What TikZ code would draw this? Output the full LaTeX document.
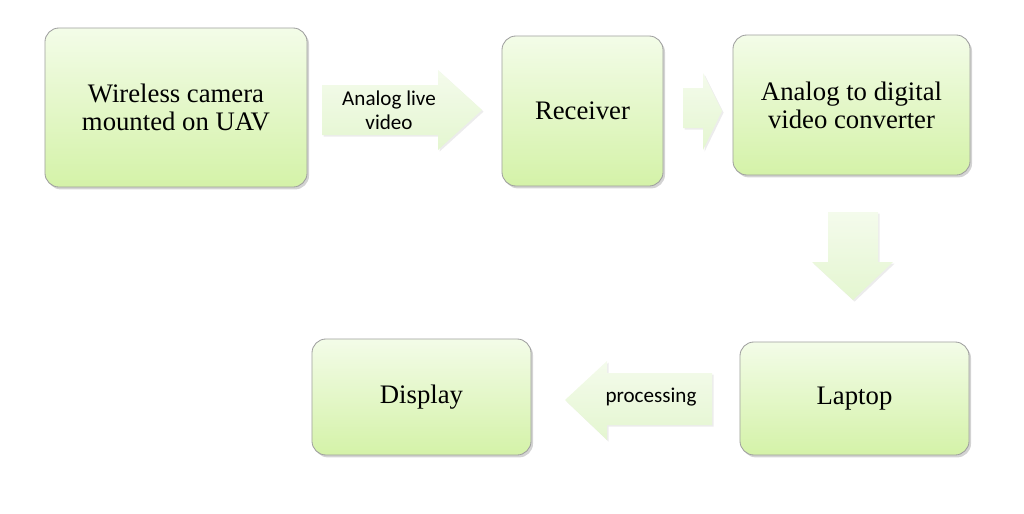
\documentclass[tikz,border=0pt]{standalone}
\usepackage{fontspec}
\setmainfont{Liberation Serif}
\newfontfamily\labelfont{Carlito}
\usetikzlibrary{positioning,shadows}

\definecolor{boxtop}{RGB}{243,252,232}
\definecolor{boxbottom}{RGB}{212,242,168}
\definecolor{arrowtop}{RGB}{244,251,236}
\definecolor{arrowbottom}{RGB}{228,246,208}

\tikzset{
  stagebox/.style={rectangle, rounded corners=0.35cm, draw=gray!75, line width=0.6pt,
    top color=boxtop, bottom color=boxbottom, align=center,
    font=\fontsize{19}{20}\selectfont,
    drop shadow={shadow xshift=0.05cm, shadow yshift=-0.06cm, opacity=0.35}},
  flowarrow/.style={top color=arrowtop, bottom color=arrowbottom,
    drop shadow={shadow xshift=0.04cm, shadow yshift=-0.04cm, opacity=0.15}},
  arrowtext/.style={align=center, font=\labelfont\fontsize{15}{17}\selectfont}
}

\begin{document}
\begin{tikzpicture}[x=0.025cm, y=-0.025cm]
\useasboundingbox (0,0) rectangle (1024,513);

%Draw the stages
\node[stagebox, minimum width=6.55cm, minimum height=3.975cm] (camera) at (176,107.5)
  {Wireless camera\\mounted on UAV};
\node[stagebox, minimum width=4.025cm, minimum height=3.75cm] (receiver) at (582.5,111)
  {Receiver};
\node[stagebox, minimum width=5.925cm, minimum height=3.5cm] (converter) at (851.5,105)
  {Analog to digital\\video converter};
\node[stagebox, minimum width=5.725cm, minimum height=2.825cm] (laptop) at (854.5,398.5)
  {Laptop};
\node[stagebox, minimum width=5.475cm, minimum height=2.9cm] (display) at (421.5,397)
  {Display};

%Add block arrows between the stages
\shade[flowarrow] (322,85) -- (438,85) -- (438,70) -- (482,110)
      -- (438,150) -- (438,135) -- (322,135) -- cycle;
\shade[flowarrow] (683,88) -- (703,88) -- (703,73) -- (722,111)
      -- (703,150) -- (703,128) -- (683,128) -- cycle;
\shade[flowarrow] (828,212) -- (878,212) -- (878,262) -- (893,262)
      -- (853,300) -- (812,262) -- (828,262) -- cycle;
\shade[flowarrow] (712,373) -- (607,373) -- (607,361) -- (565,400)
      -- (607,440) -- (607,425) -- (712,425) -- cycle;

\node[arrowtext] (livevideo) at (389,110) {Analog live\\video};
\node[arrowtext] (processing) at (651,397) {processing};
\end{tikzpicture}
\end{document}
